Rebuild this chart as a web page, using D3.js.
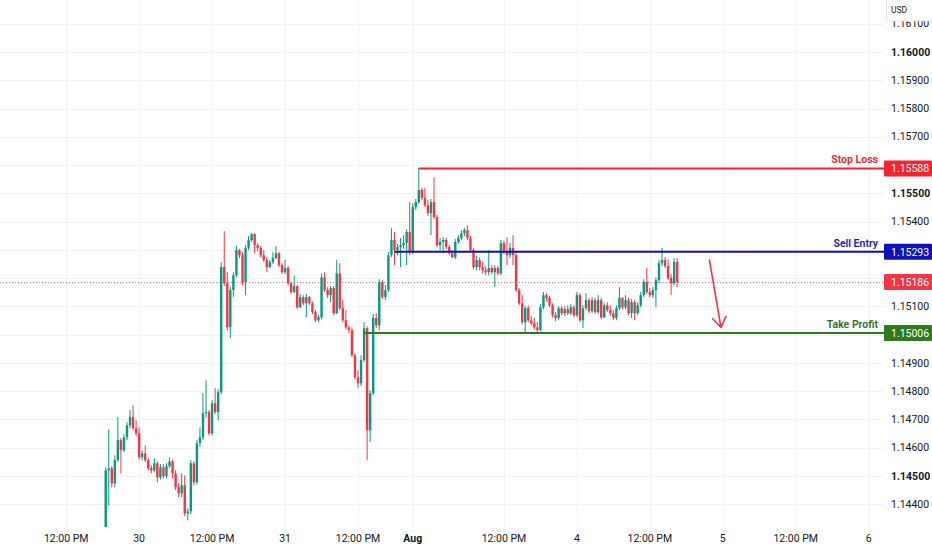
<!DOCTYPE html>
<html>
<head>
<meta charset="utf-8">
<script src="https://cdn.jsdelivr.net/npm/d3@7"></script>
<style>
  html, body { margin: 0; padding: 0; background: #fff; }
  svg { display: block; font-family: Roboto, "Noto Sans", sans-serif; }
</style>
</head>
<body>
<div id="chart"></div>
<script>
// EURUSD 30 min candles, Jul 29 - Aug 4 (open of each bar = previous close)
const firstOpen = 1.14308;
const closes = [
  1.14520, 1.14527, 1.14474, 1.14556, 1.14627, 1.14591, 1.14637, 1.14679, 1.14708, 1.14669,
  1.14651, 1.14566, 1.14580, 1.14556, 1.14528, 1.14520, 1.14545, 1.14495, 1.14531, 1.14499,
  1.14535, 1.14552, 1.14509, 1.14460, 1.14439, 1.14467, 1.14368, 1.14375, 1.14545, 1.14478,
  1.14616, 1.14637, 1.14722, 1.14726, 1.14651, 1.14757, 1.14726, 1.14797, 1.15239, 1.15182,
  1.15026, 1.15158, 1.15210, 1.15299, 1.15281, 1.15186, 1.15307, 1.15335, 1.15356, 1.15317,
  1.15307, 1.15281, 1.15264, 1.15239, 1.15257, 1.15271, 1.15288, 1.15246, 1.15221, 1.15236,
  1.15182, 1.15151, 1.15172, 1.15097, 1.15133, 1.15111, 1.15133, 1.15111, 1.15080, 1.15051,
  1.15062, 1.15203, 1.15158, 1.15140, 1.15165, 1.15076, 1.15217, 1.15094, 1.15051, 1.15026,
  1.15016, 1.14927, 1.14849, 1.14828, 1.14910, 1.15023, 1.14662, 1.14793, 1.15059, 1.15033,
  1.15186, 1.15133, 1.15158, 1.15281, 1.15335, 1.15299, 1.15310, 1.15317, 1.15324, 1.15363,
  1.15292, 1.15451, 1.15469, 1.15512, 1.15484, 1.15458, 1.15430, 1.15469, 1.15416, 1.15317,
  1.15328, 1.15335, 1.15310, 1.15288, 1.15274, 1.15328, 1.15342, 1.15359, 1.15370, 1.15342,
  1.15299, 1.15239, 1.15264, 1.15239, 1.15228, 1.15221, 1.15236, 1.15221, 1.15236, 1.15217,
  1.15324, 1.15292, 1.15281, 1.15307, 1.15281, 1.15158, 1.15111, 1.15044, 1.15094, 1.15051,
  1.15040, 1.15026, 1.15016, 1.15097, 1.15140, 1.15130, 1.15104, 1.15069, 1.15059, 1.15094,
  1.15076, 1.15090, 1.15076, 1.15097, 1.15069, 1.15140, 1.15051, 1.15094, 1.15122, 1.15083,
  1.15122, 1.15080, 1.15122, 1.15062, 1.15104, 1.15087, 1.15076, 1.15059, 1.15094, 1.15130,
  1.15097, 1.15122, 1.15076, 1.15115, 1.15076, 1.15104, 1.15140, 1.15186, 1.15151, 1.15140,
  1.15158, 1.15193, 1.15253, 1.15264, 1.15243, 1.15200, 1.15182, 1.15257, 1.15186
];
const highs = [
  1.14531, 1.14665, 1.14535, 1.14573, 1.14708, 1.14634, 1.14648, 1.14690, 1.14733, 1.14750,
  1.14697, 1.14672, 1.14591, 1.14609, 1.14563, 1.14538, 1.14563, 1.14552, 1.14542, 1.14542,
  1.14545, 1.14566, 1.14559, 1.14520, 1.14474, 1.14509, 1.14502, 1.14386, 1.14556, 1.14552,
  1.14627, 1.14672, 1.14793, 1.14839, 1.14733, 1.14768, 1.14811, 1.14807, 1.15257, 1.15366,
  1.15221, 1.15168, 1.15221, 1.15314, 1.15303, 1.15292, 1.15317, 1.15349, 1.15359, 1.15359,
  1.15324, 1.15314, 1.15299, 1.15274, 1.15264, 1.15292, 1.15314, 1.15292, 1.15253, 1.15264,
  1.15243, 1.15186, 1.15210, 1.15175, 1.15144, 1.15140, 1.15144, 1.15137, 1.15118, 1.15087,
  1.15069, 1.15217, 1.15221, 1.15168, 1.15172, 1.15172, 1.15264, 1.15253, 1.15122, 1.15087,
  1.15033, 1.15026, 1.14934, 1.14874, 1.14927, 1.15044, 1.15030, 1.14804, 1.15073, 1.15076,
  1.15196, 1.15193, 1.15175, 1.15292, 1.15377, 1.15363, 1.15321, 1.15342, 1.15352, 1.15373,
  1.15469, 1.15465, 1.15480, 1.15589, 1.15519, 1.15519, 1.15476, 1.15480, 1.15557, 1.15423,
  1.15342, 1.15345, 1.15342, 1.15317, 1.15299, 1.15338, 1.15352, 1.15370, 1.15377, 1.15387,
  1.15349, 1.15307, 1.15278, 1.15274, 1.15257, 1.15243, 1.15299, 1.15246, 1.15246, 1.15243,
  1.15335, 1.15331, 1.15345, 1.15324, 1.15352, 1.15292, 1.15165, 1.15140, 1.15101, 1.15104,
  1.15066, 1.15059, 1.15044, 1.15108, 1.15151, 1.15147, 1.15137, 1.15111, 1.15080, 1.15101,
  1.15101, 1.15101, 1.15104, 1.15108, 1.15104, 1.15151, 1.15147, 1.15104, 1.15147, 1.15130,
  1.15133, 1.15130, 1.15140, 1.15130, 1.15111, 1.15115, 1.15104, 1.15087, 1.15104, 1.15168,
  1.15133, 1.15140, 1.15130, 1.15126, 1.15122, 1.15115, 1.15151, 1.15196, 1.15236, 1.15165,
  1.15168, 1.15203, 1.15264, 1.15307, 1.15274, 1.15267, 1.15214, 1.15271, 1.15271
];
const lows = [
  1.14301, 1.14396, 1.14460, 1.14460, 1.14549, 1.14509, 1.14584, 1.14627, 1.14669, 1.14662,
  1.14641, 1.14559, 1.14556, 1.14549, 1.14520, 1.14509, 1.14513, 1.14478, 1.14488, 1.14492,
  1.14492, 1.14528, 1.14492, 1.14450, 1.14425, 1.14425, 1.14358, 1.14343, 1.14365, 1.14467,
  1.14471, 1.14602, 1.14627, 1.14705, 1.14644, 1.14644, 1.14719, 1.14697, 1.14790, 1.15172,
  1.15016, 1.14988, 1.15133, 1.15203, 1.15271, 1.15175, 1.15140, 1.15299, 1.15328, 1.15288,
  1.15295, 1.15274, 1.15257, 1.15221, 1.15236, 1.15250, 1.15267, 1.15239, 1.15214, 1.15214,
  1.15175, 1.15144, 1.15147, 1.15090, 1.15094, 1.15104, 1.15062, 1.15104, 1.15073, 1.15044,
  1.15044, 1.15055, 1.15151, 1.15130, 1.15115, 1.15069, 1.15073, 1.15087, 1.15044, 1.15019,
  1.15005, 1.14920, 1.14842, 1.14811, 1.14818, 1.14903, 1.14556, 1.14620, 1.14786, 1.15023,
  1.15016, 1.15126, 1.15122, 1.15151, 1.15274, 1.15246, 1.15281, 1.15239, 1.15303, 1.15246,
  1.15281, 1.15285, 1.15441, 1.15462, 1.15476, 1.15451, 1.15420, 1.15352, 1.15409, 1.15310,
  1.15299, 1.15288, 1.15303, 1.15281, 1.15271, 1.15267, 1.15321, 1.15335, 1.15349, 1.15335,
  1.15292, 1.15232, 1.15228, 1.15228, 1.15217, 1.15210, 1.15210, 1.15214, 1.15168, 1.15210,
  1.15210, 1.15285, 1.15246, 1.15271, 1.15246, 1.15151, 1.15104, 1.15037, 1.15009, 1.15044,
  1.15033, 1.15019, 1.15009, 1.15012, 1.15090, 1.15118, 1.15097, 1.15062, 1.15048, 1.15051,
  1.15069, 1.15066, 1.15069, 1.15069, 1.15062, 1.15062, 1.15044, 1.15023, 1.15087, 1.15076,
  1.15076, 1.15073, 1.15073, 1.15055, 1.15059, 1.15080, 1.15066, 1.15051, 1.15051, 1.15087,
  1.15090, 1.15090, 1.15069, 1.15059, 1.15051, 1.15069, 1.15097, 1.15133, 1.15144, 1.15133,
  1.15130, 1.15097, 1.15182, 1.15243, 1.15236, 1.15193, 1.15140, 1.15175, 1.15168
];

// time axis (positions in bar slots, 48 bars = 1 day)
const timeTickSlots = [-13, 11, 35, 59, 83, 101, 131, 155, 179, 203, 227, 251];
const timeTickLabels = ['12:00 PM', '30', '12:00 PM', '31', '12:00 PM', 'Aug', '12:00 PM', '4', '12:00 PM', '5', '12:00 PM', '6'];

const priceTicks = [1.144, 1.145, 1.146, 1.147, 1.148, 1.149, 1.150, 1.151, 1.152,
  1.153, 1.154, 1.155, 1.156, 1.157, 1.158, 1.159, 1.160, 1.161];
const majorPriceTicks = [1.145, 1.150, 1.155, 1.160];

// trade levels
const levelNames = ['Stop Loss', 'Sell Entry', 'Take Profit'];
const levelPrices = [1.15588, 1.15293, 1.15006];
const levelStartSlots = [103, 95, 85];
const lastPrice = 1.15186;

// drawn arrow (slot, price)
const arrowFrom = [198.6, 1.15264];
const arrowTo = [202.4, 1.15026];

const W = 932, H = 550;
const paneRight = 884, paneBottom = 527;
const colors = {
  up: '#089981', down: '#f23645', grid: '#f0f2f6', text: '#131722',
  levels: ['#f7232f', '#1010b8', '#2e7a1c'],
  levelText: ['#e5252f', '#1a1ab0', '#2e6e1f'],
  last: '#f23645'
};

const bars = closes.map((c, i) => ({
  i, o: i === 0 ? firstOpen : closes[i - 1], c, h: highs[i], l: lows[i]
}));

const x = d3.scaleLinear().domain([0, 188]).range([105.7, 677.2]);
const y = d3.scaleLinear().domain([1.144, 1.16]).range([504.3, 52]);
const fmt = d3.format('.5f');

const svg = d3.select('#chart').append('svg')
  .attr('width', W).attr('height', H);

svg.append('defs').append('clipPath').attr('id', 'pane')
  .append('rect').attr('x', 0).attr('y', 0).attr('width', paneRight).attr('height', paneBottom);

// grid
const grid = svg.append('g').attr('clip-path', 'url(#pane)');
grid.selectAll('line.h').data(priceTicks).join('line')
  .attr('class', 'h')
  .attr('x1', 0).attr('x2', paneRight)
  .attr('y1', d => Math.round(y(d)) + 0.5).attr('y2', d => Math.round(y(d)) + 0.5)
  .attr('stroke', colors.grid);
grid.selectAll('line.v').data(timeTickSlots).join('line')
  .attr('class', 'v')
  .attr('x1', d => Math.round(x(d)) + 0.5).attr('x2', d => Math.round(x(d)) + 0.5)
  .attr('y1', 0).attr('y2', paneBottom)
  .attr('stroke', colors.grid);

// last price dotted line
svg.append('line')
  .attr('x1', 0).attr('x2', paneRight)
  .attr('y1', Math.round(y(lastPrice)) + 0.5).attr('y2', Math.round(y(lastPrice)) + 0.5)
  .attr('stroke', colors.last).attr('stroke-opacity', 0.7)
  .attr('stroke-dasharray', '1,2');

// candles
const candles = svg.append('g').attr('clip-path', 'url(#pane)');
const cg = candles.selectAll('g').data(bars).join('g');
cg.append('line')
  .attr('x1', d => x(d.i)).attr('x2', d => x(d.i))
  .attr('y1', d => y(d.h)).attr('y2', d => y(d.l))
  .attr('stroke', d => d.c >= d.o ? colors.up : colors.down)
  .attr('stroke-width', 1);
cg.append('rect')
  .attr('x', d => x(d.i) - 1.2).attr('width', 2.4)
  .attr('y', d => y(Math.max(d.o, d.c)))
  .attr('height', d => Math.max(1, Math.abs(y(d.o) - y(d.c))))
  .attr('fill', d => d.c >= d.o ? colors.up : colors.down);

// level lines
levelPrices.forEach((p, k) => {
  svg.append('line')
    .attr('x1', x(levelStartSlots[k])).attr('x2', paneRight)
    .attr('y1', y(p)).attr('y2', y(p))
    .attr('stroke', colors.levels[k]).attr('stroke-width', 2);
  svg.append('text')
    .attr('x', paneRight - 6).attr('y', y(p) - 5)
    .attr('text-anchor', 'end')
    .attr('font-size', 10.5).attr('font-weight', 600)
    .attr('fill', colors.levelText[k])
    .text(levelNames[k]);
});

// arrow
const a0 = [x(arrowFrom[0]), y(arrowFrom[1])];
const a1 = [x(arrowTo[0]), y(arrowTo[1])];
const ang = Math.atan2(a1[1] - a0[1], a1[0] - a0[0]);
const head = 12, spread = 0.6;
const left = [a1[0] - head * Math.cos(ang - spread), a1[1] - head * Math.sin(ang - spread)];
const right = [a1[0] - head * Math.cos(ang + spread), a1[1] - head * Math.sin(ang + spread)];
svg.append('path')
  .attr('d', `M${a0}L${a1}M${left}L${a1}L${right}`)
  .attr('fill', 'none').attr('stroke', colors.last)
  .attr('stroke-width', 1.6).attr('stroke-linecap', 'round').attr('stroke-linejoin', 'round');

// price axis labels
const markerPrices = levelPrices.concat([lastPrice]);
const visibleTicks = priceTicks.filter(t => markerPrices.every(m => Math.abs(y(t) - y(m)) > 11));
svg.selectAll('text.price').data(visibleTicks).join('text')
  .attr('class', 'price')
  .attr('x', 891).attr('y', d => y(d))
  .attr('dy', '0.35em')
  .attr('font-size', 10.5)
  .attr('font-weight', d => majorPriceTicks.includes(d) ? 700 : 400)
  .attr('fill', colors.text)
  .text(d => fmt(d));

// marker boxes on price axis
const markerColors = colors.levels.concat([colors.last]);
markerPrices.forEach((p, k) => {
  svg.append('rect')
    .attr('x', 884).attr('y', y(p) - 8).attr('width', 48).attr('height', 16)
    .attr('rx', 1).attr('fill', markerColors[k]);
  svg.append('text')
    .attr('x', 891).attr('y', y(p)).attr('dy', '0.35em')
    .attr('font-size', 10.5).attr('fill', '#fff')
    .text(fmt(p));
});

// currency box (covers the top of the first price label)
svg.append('rect')
  .attr('x', 886.5).attr('y', -1).attr('width', 46).attr('height', 22)
  .attr('rx', 2).attr('fill', '#fff').attr('stroke', '#e0e3eb');
svg.append('text')
  .attr('x', 891).attr('y', 13)
  .attr('font-size', 8.5).attr('fill', colors.text)
  .text('USD');

// time axis
svg.selectAll('text.time').data(timeTickSlots).join('text')
  .attr('class', 'time')
  .attr('x', d => x(d)).attr('y', 538).attr('dy', '0.35em')
  .attr('text-anchor', 'middle')
  .attr('font-size', 10.5)
  .attr('font-weight', (d, i) => timeTickLabels[i] === 'Aug' ? 700 : 400)
  .attr('fill', colors.text)
  .text((d, i) => timeTickLabels[i]);
</script>
</body>
</html>
